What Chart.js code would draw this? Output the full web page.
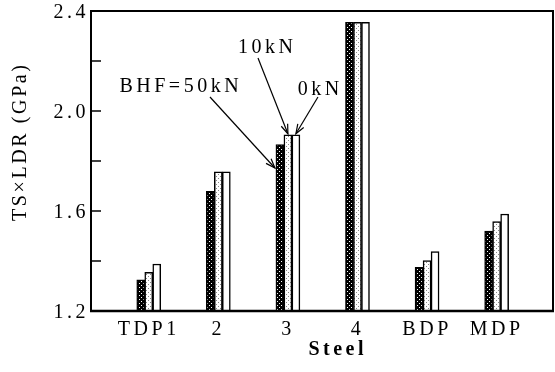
<!DOCTYPE html>
<html><head><meta charset="utf-8">
<script src="https://cdn.jsdelivr.net/npm/chart.js@4.4.1/dist/chart.umd.min.js"></script>
<style>html,body{margin:0;padding:0;background:#fff;}#wrap{width:555px;height:372px;position:relative;}</style>
</head><body><div id="wrap"><canvas id="c" width="555" height="372"></canvas></div>
<script>
// ---- data ----
const categories = ['TDP1', '2', '3', '4', 'BDP', 'MDP'];
const seriesNames = ['BHF=50kN', '10kN', '0kN'];
const bhf50 = [1.325, 1.679, 1.866, 2.355, 1.375, 1.520];
const bhf10 = [1.355, 1.757, 1.905, 2.355, 1.402, 1.558];
const bhf0  = [1.388, 1.757, 1.905, 2.355, 1.438, 1.588];
const yLabelTicks = ['1.2', '1.6', '2.0', '2.4'];
const yTitle = 'TS\u00D7LDR (GPa)';
const xTitle = 'Steel';

const FONT = '"Liberation Serif", "Times New Roman", serif';
const LS = '3.5px';

const canvas = document.getElementById('c');
const ctx = canvas.getContext('2d');

function makePattern(size, bg, dot, pts) {
  const c = document.createElement('canvas');
  c.width = size; c.height = size;
  const x = c.getContext('2d');
  x.fillStyle = bg; x.fillRect(0, 0, size, size);
  x.fillStyle = dot;
  pts.forEach(([a, b]) => x.fillRect(a, b, 1, 1));
  return ctx.createPattern(c, 'repeat');
}
const darkPat = makePattern(4, '#000', '#fff', [[1, 1], [3, 3]]);
const lightPat = makePattern(4, '#fff', '#888', [[0, 0], [2, 2]]);

const seriesValues = [bhf50, bhf10, bhf0];
const fills = [darkPat, lightPat, '#fff'];

const datasets = seriesValues.map((vals, s) => ({
  label: seriesNames[s],
  data: vals.map((v, i) => ({ x: i, y: v })),
  backgroundColor: fills[s],
  borderColor: '#000',
  borderWidth: 1.5,
  barThickness: 8,
}));

const annotations = [
  { text: '10kN', tx: 1.678, ty: 2.232, sx: 1.570, sy: 2.212, ds: 1, idx: 2, tip: 'top' },
  { text: 'BHF=50kN', tx: 0.435, ty: 2.076, sx: 0.880, sy: 2.056, ds: 0, idx: 2, tip: 'side', tipY: 1.772 },
  { text: '0kN', tx: 2.44, ty: 2.064, sx: 2.432, sy: 2.056, ds: 2, idx: 2, tip: 'top' },
];

function drawSpacedText(c, text, cx, y, font, ls) {
  c.save();
  c.font = font;
  c.letterSpacing = ls || LS;
  c.fillStyle = '#000';
  c.textAlign = 'left';
  const w = c.measureText(text).width - parseFloat(ls || LS);
  c.fillText(text, cx - w / 2, y);
  c.restore();
}

const spacingPlugin = {
  id: 'spacing',
  beforeLayout(chart) { chart.ctx.letterSpacing = LS; },
  beforeDraw(chart) { chart.ctx.letterSpacing = LS; },
};

const decorPlugin = {
  id: 'decor',
  afterDraw(chart) {
    const c = chart.ctx;
    const a = chart.chartArea;
    const xs = chart.scales.x, ys = chart.scales.y;
    c.save();
    c.letterSpacing = '0px';
    c.strokeStyle = '#000';
    // frame
    c.lineWidth = 2;
    c.strokeRect(a.left, a.top, a.right - a.left, a.bottom - a.top);
    c.lineWidth = 2.5;
    c.beginPath(); c.moveTo(a.left - 1, a.bottom); c.lineTo(a.right + 1, a.bottom); c.stroke();
    // inward y ticks
    c.lineWidth = 1.5;
    ys.ticks.forEach(t => {
      const py = ys.getPixelForValue(t.value);
      c.beginPath(); c.moveTo(a.left, py); c.lineTo(a.left + 10, py); c.stroke();
    });
    // annotations
    c.lineWidth = 1.2;
    annotations.forEach(an => {
      const el = chart.getDatasetMeta(an.ds).data[an.idx];
      let tx, ty;
      if (an.tip === 'top') { tx = el.x; ty = el.y - 1; }
      else { tx = el.x - el.width / 2 - 1; ty = ys.getPixelForValue(an.tipY); }
      const sx = xs.getPixelForValue(an.sx), sy = ys.getPixelForValue(an.sy);
      c.beginPath(); c.moveTo(sx, sy); c.lineTo(tx, ty); c.stroke();
      const ang = Math.atan2(ty - sy, tx - sx);
      const L = 10, spread = 0.35;
      c.beginPath();
      c.moveTo(tx - L * Math.cos(ang - spread), ty - L * Math.sin(ang - spread));
      c.lineTo(tx, ty);
      c.lineTo(tx - L * Math.cos(ang + spread), ty - L * Math.sin(ang + spread));
      c.stroke();
      drawSpacedText(c, an.text, xs.getPixelForValue(an.tx), ys.getPixelForValue(an.ty), '20px ' + FONT);
    });
    // axis titles
    c.save();
    c.translate(a.left - 70, (a.top + a.bottom) / 2 - 18);
    c.rotate(-Math.PI / 2);
    c.textBaseline = 'middle';
    drawSpacedText(c, yTitle, 0, 0, '20px ' + FONT, '2.6px');
    c.restore();
    c.save();
    c.textBaseline = 'middle';
    drawSpacedText(c, xTitle, (a.left + a.right) / 2 + 14, a.bottom + 39, 'bold 20px ' + FONT);
    c.restore();
    c.restore();
  }
};

new Chart(canvas, {
  type: 'bar',
  data: { datasets },
  options: {
    responsive: false,
    animation: false,
    layout: { padding: { left: 0, top: 11, right: 2, bottom: 0 } },
    plugins: { legend: { display: false }, tooltip: { enabled: false } },
    scales: {
      x: {
        type: 'linear',
        offset: false,
        min: -0.83,
        max: 5.81,
        grid: { display: false },
        border: { display: false },
        afterBuildTicks(scale) { scale.ticks = categories.map((_, i) => ({ value: i })); },
        afterFit(scale) { scale.height = 61; },
        ticks: {
          autoSkip: false,
          maxRotation: 0,
          padding: -1,
          color: '#000',
          font: { family: FONT, size: 20 },
          callback: (v) => categories[v] ?? '',
        },
      },
      y: {
        min: 1.2,
        max: 2.4,
        grid: { display: false },
        border: { display: false },
        afterFit(scale) { scale.width = 91; },
        ticks: {
          stepSize: 0.2,
          padding: -6,
          labelOffset: 2,
          color: '#000',
          font: { family: FONT, size: 20 },
          callback: (v) => {
            const s = v.toFixed(1);
            return yLabelTicks.includes(s) ? s : '';
          },
        },
      },
    },
  },
  plugins: [spacingPlugin, decorPlugin],
});
</script>
</body></html>
